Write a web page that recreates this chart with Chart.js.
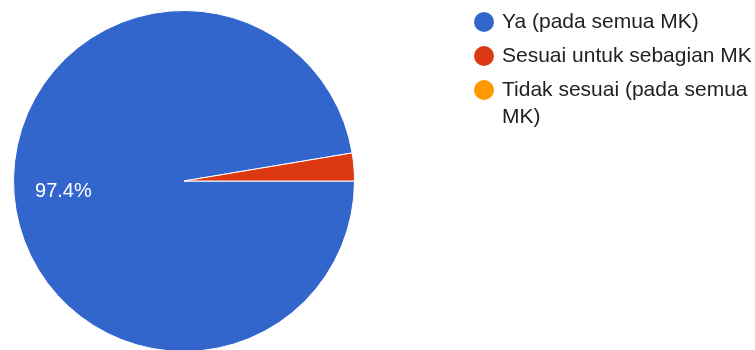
<!DOCTYPE html>
<html>
<head>
<meta charset="utf-8">
<script src="https://cdn.jsdelivr.net/npm/chart.js@4.4.1/dist/chart.umd.min.js"></script>
<style>
    html, body { margin: 0; padding: 0; background: #fff; overflow: hidden; }
    #canvas { display: block; }
</style>
</head>
<body>
<canvas id="canvas" width="755" height="353"></canvas>
<script>
const labels = ["Ya (pada semua MK)", "Sesuai untuk sebagian MK", "Tidak sesuai (pada semua MK)"];
const counts = [37, 1, 0];
const colors = ["#3366cc", "#dc3912", "#ff9900"];

const FONT = 'Arial, "Liberation Sans", sans-serif';

// percentage text inside the slices
const sliceLabels = {
    id: 'sliceLabels',
    afterDatasetsDraw(chart) {
        const ctx = chart.ctx;
        const total = counts.reduce((a, b) => a + b, 0);
        const arcs = chart.getDatasetMeta(0).data;
        ctx.save();
        ctx.fillStyle = '#ffffff';
        ctx.font = '20px ' + FONT;
        ctx.textAlign = 'center';
        ctx.textBaseline = 'middle';
        arcs.forEach((arc, i) => {
            const pct = counts[i] / total * 100;
            if (pct < 5) return;
            const p = arc.getProps(['x', 'y', 'startAngle', 'endAngle', 'outerRadius'], true);
            const mid = (p.startAngle + p.endAngle) / 2;
            const r = p.outerRadius * 0.71;
            ctx.fillText(pct.toFixed(1) + '%', p.x + Math.cos(mid) * r, p.y + Math.sin(mid) * r);
        });
        ctx.restore();
    }
};

// legend on the right, wrapping long entries
const sideLegend = {
    id: 'sideLegend',
    afterDraw(chart) {
        const ctx = chart.ctx;
        const dotX = 484, textX = 502, maxW = 755 - textX;
        const itemGap = 34, lineGap = 27;
        let y = 22;
        ctx.save();
        ctx.font = '21px ' + FONT;
        ctx.textBaseline = 'middle';
        labels.forEach((text, i) => {
            ctx.fillStyle = colors[i];
            ctx.beginPath();
            ctx.arc(dotX, y, 10, 0, Math.PI * 2);
            ctx.fill();

            // simple word wrap
            const lines = [];
            let line = '';
            text.split(' ').forEach(word => {
                const test = line ? line + ' ' + word : word;
                if (ctx.measureText(test).width > maxW && line) {
                    lines.push(line);
                    line = word;
                } else {
                    line = test;
                }
            });
            lines.push(line);

            ctx.fillStyle = '#222222';
            lines.forEach((l, j) => ctx.fillText(l, textX, y + j * lineGap));
            y += itemGap + (lines.length - 1) * lineGap;
        });
        ctx.restore();
    }
};

new Chart(document.getElementById('canvas'), {
    type: 'pie',
    data: {
        labels: labels,
        datasets: [{
            data: counts,
            backgroundColor: colors,
            borderColor: '#ffffff',
            borderWidth: 1
        }]
    },
    options: {
        responsive: false,
        animation: false,
        rotation: 90,
        layout: {
            padding: { left: 13, right: 400, top: 10, bottom: 1 }
        },
        plugins: {
            legend: { display: false },
            tooltip: { enabled: false }
        }
    },
    plugins: [sliceLabels, sideLegend]
});
</script>
</body>
</html>
